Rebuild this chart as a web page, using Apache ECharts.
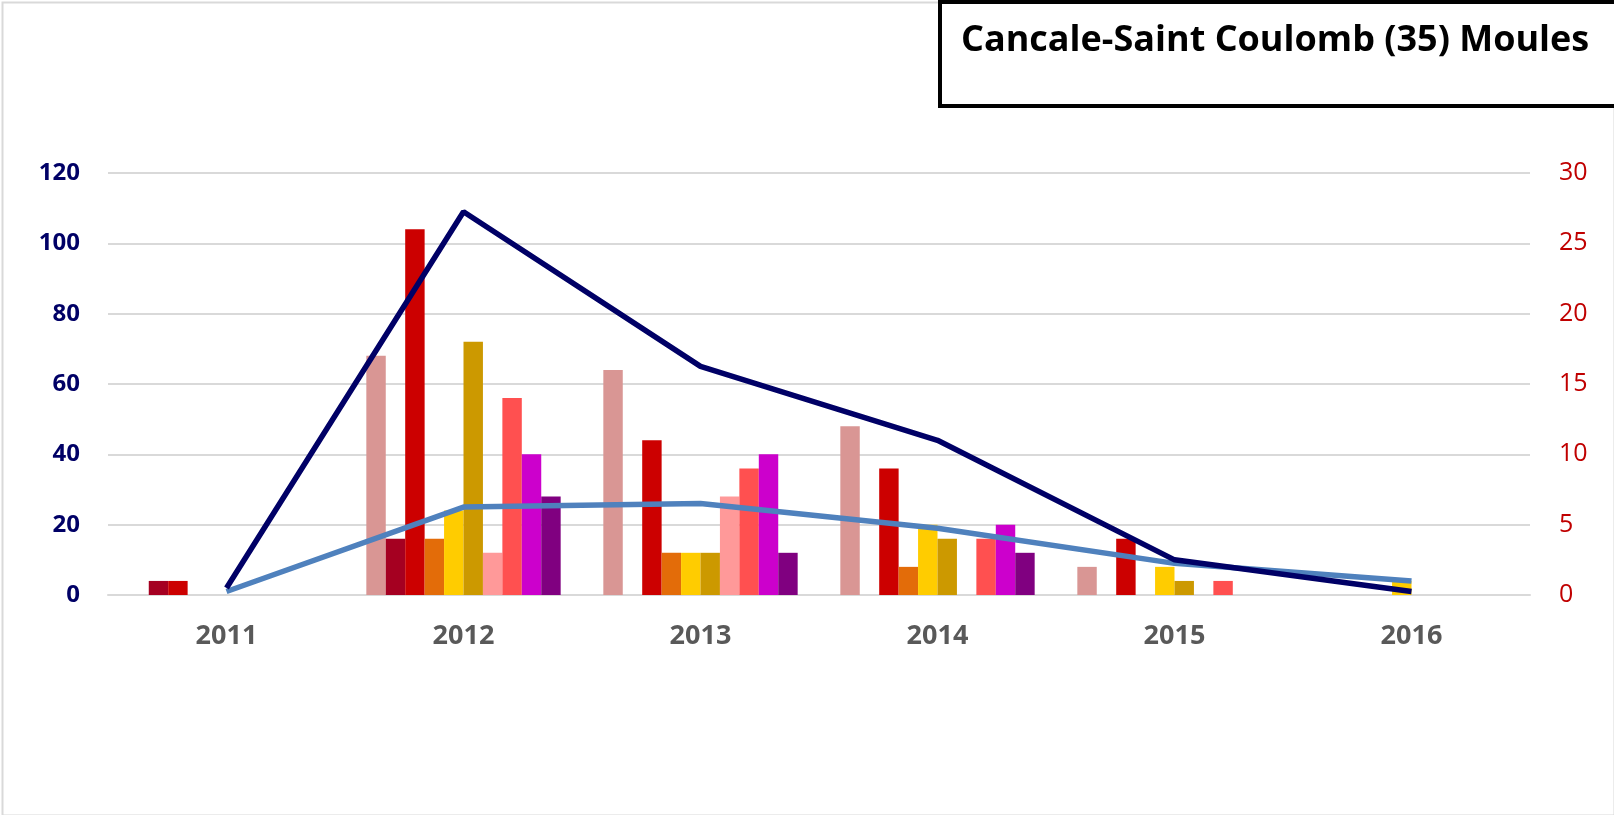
<!DOCTYPE html>
<html>
<head>
<meta charset="utf-8">
<script src="https://cdn.jsdelivr.net/npm/echarts@6/dist/echarts.min.js"></script>
<style>
  html, body { margin: 0; padding: 0; background: #fff; }
  #chart { width: 1614px; height: 815px; }
</style>
</head>
<body>
<div id="chart"></div>
<script>
// années
var years = ['2011', '2012', '2013', '2014', '2015', '2016'];

// barres (axe de droite)
var barNames = ['s1', 's2', 's3', 's4', 's5', 's6', 's7', 's8', 's9', 's10'];
var barColors = ['#D99694', '#A50021', '#CC0000', '#E36C09', '#FFCC00',
                 '#CC9900', '#FF9999', '#FF5050', '#CC00CC', '#800080'];
var s1  = [0, 17, 16, 12, 2, 0];
var s2  = [1, 4, 0, 0, 0, 0];
var s3  = [1, 26, 11, 9, 4, 0];
var s4  = [0, 4, 3, 2, 0, 0];
var s5  = [0, 6, 3, 5, 2, 1];
var s6  = [0, 18, 3, 4, 1, 0];
var s7  = [0, 3, 7, 0, 0, 0];
var s8  = [0, 14, 9, 4, 1, 0];
var s9  = [0, 10, 10, 5, 0, 0];
var s10 = [0, 7, 3, 3, 0, 0];
var barData = [s1, s2, s3, s4, s5, s6, s7, s8, s9, s10];

// courbes (axe de gauche)
var totalLine = [2, 109, 65, 44, 10, 1];
var blueLine = [1, 25, 26, 19, 9, 4];

// graduations
var leftTicks = [0, 120, 20];
var rightTicks = [0, 30, 5];

var chart = echarts.init(document.getElementById('chart'));

var series = [];
for (var i = 0; i < barData.length; i++) {
  series.push({
    name: barNames[i],
    type: 'bar',
    yAxisIndex: 1,
    barGap: 0,
    barCategoryGap: '18%',
    itemStyle: { color: barColors[i] },
    data: barData[i].map(function (v) { return v === 0 ? null : v; }),
    z: 2
  });
}
series.push({
  name: 'total',
  type: 'line',
  yAxisIndex: 0,
  data: totalLine,
  symbol: 'none',
  lineStyle: { color: '#000066', width: 5.5 },
  itemStyle: { color: '#000066' },
  z: 5
});
series.push({
  name: 'bleu',
  type: 'line',
  yAxisIndex: 0,
  data: blueLine,
  symbol: 'none',
  lineStyle: { color: '#4F81BD', width: 5.5 },
  itemStyle: { color: '#4F81BD' },
  z: 4
});

var option = {
  animation: false,
  backgroundColor: '#fff',
  grid: { left: 108, right: 84, top: 173, bottom: 220 },
  xAxis: {
    type: 'category',
    data: years,
    axisTick: { show: false },
    axisLine: { lineStyle: { color: '#D9D9D9', width: 2 } },
    axisLabel: {
      color: '#595959',
      fontWeight: 'bold',
      fontSize: 27,
      fontFamily: 'Open Sans',
      margin: 28
    }
  },
  yAxis: [
    {
      type: 'value',
      min: leftTicks[0], max: leftTicks[1], interval: leftTicks[2],
      axisLine: { show: false },
      axisTick: { show: false },
      splitLine: { lineStyle: { color: '#D9D9D9', width: 2 } },
      axisLabel: {
        color: '#000066',
        fontWeight: 'bold',
        fontSize: 24,
        fontFamily: 'Open Sans',
        margin: 28
      }
    },
    {
      type: 'value',
      position: 'right',
      min: rightTicks[0], max: rightTicks[1], interval: rightTicks[2],
      axisLine: { show: false },
      axisTick: { show: false },
      splitLine: { show: false },
      axisLabel: {
        color: '#C00000',
        fontSize: 25,
        fontFamily: 'Open Sans',
        margin: 29
      }
    }
  ],
  graphic: [
    {
      type: 'rect',
      left: 0, top: 0,
      shape: { width: 1612, height: 813 },
      style: { fill: 'none', stroke: '#D9D9D9', lineWidth: 2 },
      silent: true
    },
    {
      type: 'rect',
      shape: { x: 940, y: 2, width: 700, height: 104 },
      style: { fill: '#fff', stroke: '#000', lineWidth: 4 },
      z: 10
    },
    {
      type: 'text',
      x: 961, y: 41,
      style: {
        text: 'Cancale-Saint Coulomb (35) Moules',
        font: 'bold 36px "Open Sans"',
        fill: '#000',
        verticalAlign: 'middle'
      },
      z: 11
    }
  ],
  series: series
};

chart.setOption(option);
</script>
</body>
</html>
